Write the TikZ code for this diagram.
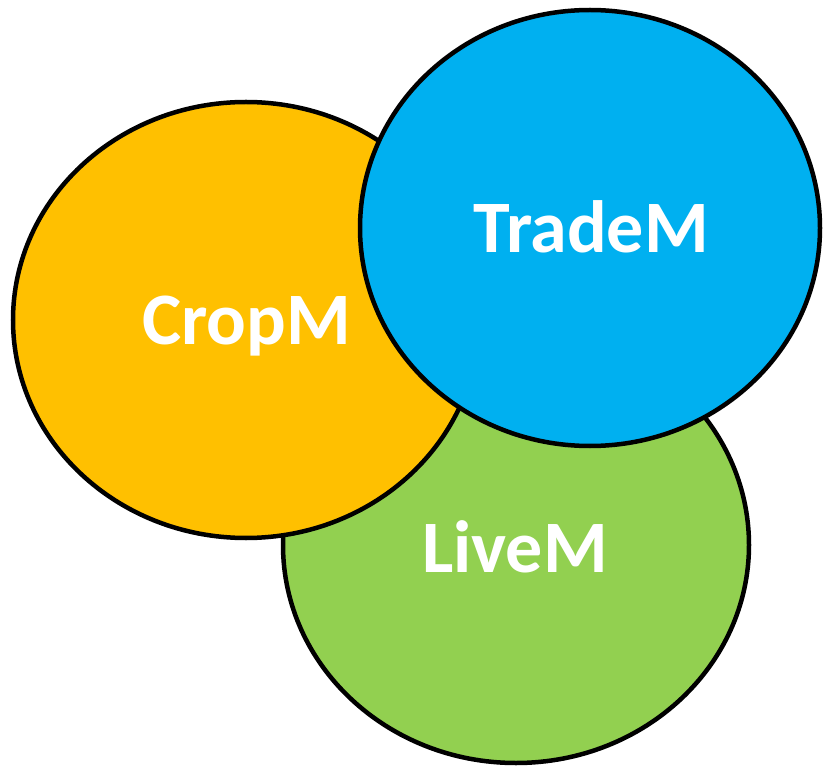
\documentclass[tikz,border=0pt]{standalone}
\usepackage{fontspec}
\setmainfont{Carlito}
\usepackage{tikz}
\usetikzlibrary{shapes.geometric}

\definecolor{cropfill}{HTML}{FFC000}
\definecolor{tradefill}{HTML}{00B0F0}
\definecolor{livefill}{HTML}{92D050}

\begin{document}
\begin{tikzpicture}
    [
    x=1pt, y=-1pt,
    blob/.style={ellipse, draw=black, line width=4.5pt, inner sep=0pt,
        minimum width=466pt, minimum height=436pt},
    word/.style={anchor=base, text=white, inner sep=0pt,
        font=\fontsize{74}{88}\selectfont\bfseries}
    ]

    \useasboundingbox (0,0) rectangle (825,767);

    \node[blob, fill=livefill] (live) at (516,545) {};
    \node[blob, fill=cropfill] (crop) at (246,320) {};
    \node[blob, fill=tradefill, minimum width=460pt] (trade) at (590,228) {};

    \node[word] (livetext) at (515,572) {LiveM};
    \node[word] (croptext) at (246.5,345) {CropM};
    \node[word] (tradetext) at (591,253) {TradeM};
\end{tikzpicture}
\end{document}
